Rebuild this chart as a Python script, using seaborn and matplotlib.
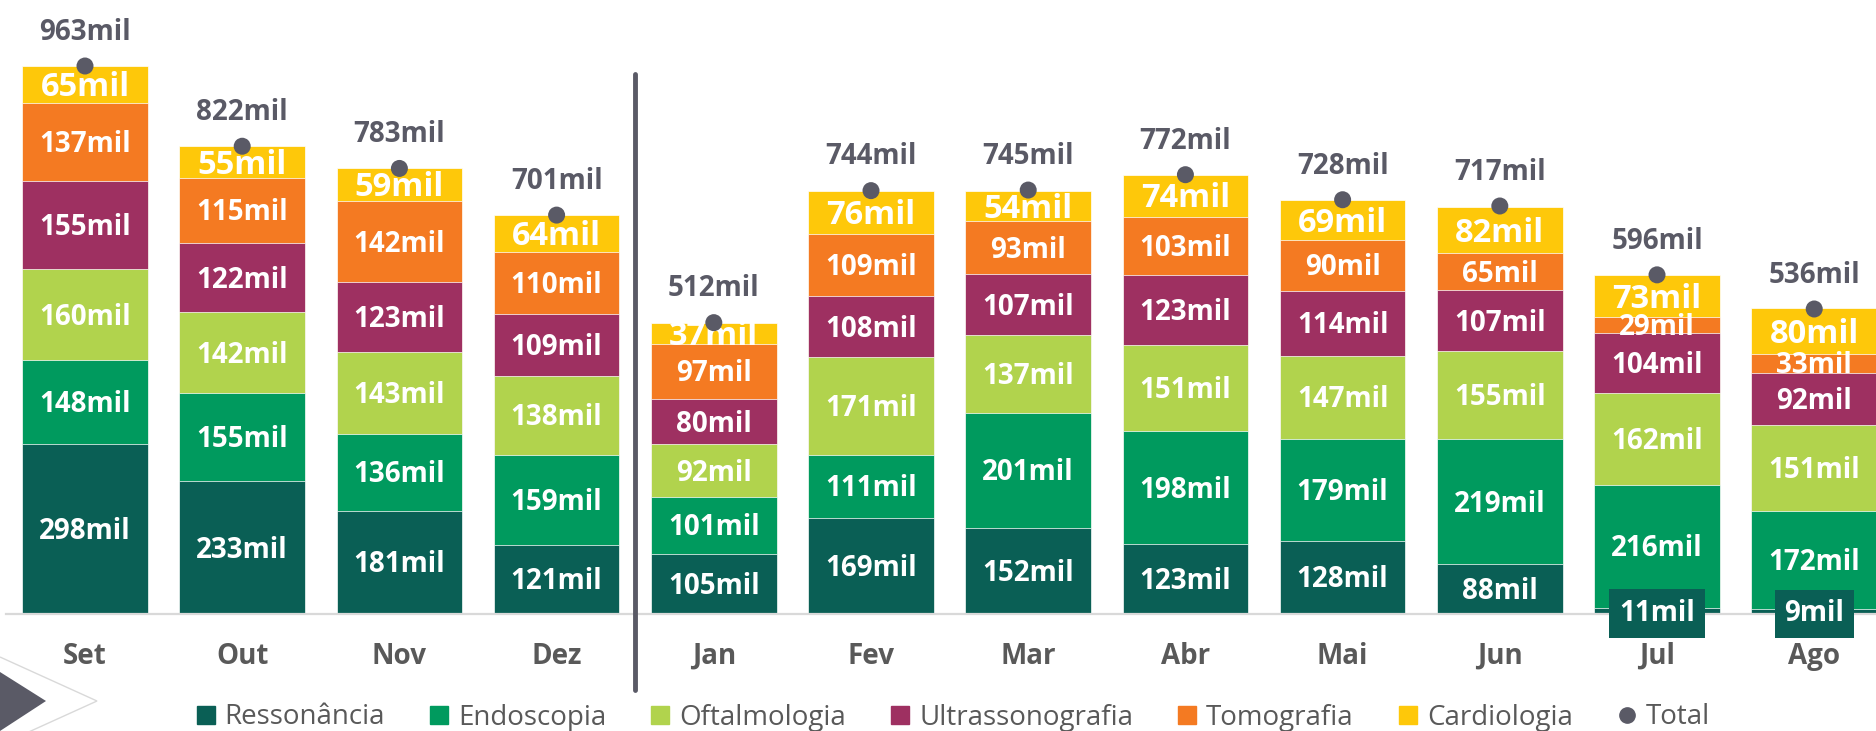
import numpy as np
import matplotlib
matplotlib.use("Agg")
import matplotlib.pyplot as plt
import matplotlib.transforms as mtransforms
from matplotlib.lines import Line2D
from matplotlib.patches import Polygon
import seaborn as sns

# ---- data ----
months = ['Set', 'Out', 'Nov', 'Dez', 'Jan', 'Fev', 'Mar', 'Abr', 'Mai', 'Jun', 'Jul', 'Ago']
ressonancia = [298, 233, 181, 121, 105, 169, 152, 123, 128, 88, 11, 9]
endoscopia = [148, 155, 136, 159, 101, 111, 201, 198, 179, 219, 216, 172]
oftalmologia = [160, 142, 143, 138, 92, 171, 137, 151, 147, 155, 162, 151]
ultrassonografia = [155, 122, 123, 109, 80, 108, 107, 123, 114, 107, 104, 92]
tomografia = [137, 115, 142, 110, 97, 109, 93, 103, 90, 65, 29, 33]
cardiologia = [65, 55, 59, 64, 37, 76, 54, 74, 69, 82, 73, 80]
total = [963, 822, 783, 701, 512, 744, 745, 772, 728, 717, 596, 536]

series_names = ['Ressonância', 'Endoscopia', 'Oftalmologia', 'Ultrassonografia', 'Tomografia', 'Cardiologia']
series_vals = [ressonancia, endoscopia, oftalmologia, ultrassonografia, tomografia, cardiologia]
colors = ['#0a5f55', '#009a5e', '#b1d34d', '#9e3061', '#f47a22', '#fec80a']
total_color = '#5a5a66'
text_gray = '#595959'

sns.set_theme(style='white')
plt.rcParams['font.family'] = ['Open Sans', 'DejaVu Sans']

W, H = 1876, 731
fig = plt.figure(figsize=(W / 100, H / 100), dpi=100)
ax = fig.add_axes([6 / W, 117 / H, 1870 / W, 614 / H])

x = np.arange(len(months))
vals = np.array(series_vals, dtype=float)
cum = np.cumsum(vals, axis=0)

# stacked bars: draw cumulative sums from the top layer down
for i in range(len(series_names) - 1, -1, -1):
    sns.barplot(x=x, y=cum[i], color=colors[i], saturation=1, width=0.8,
                edgecolor='white', linewidth=0.5, errorbar=None, ax=ax, zorder=2)

# segment labels
for i in range(len(series_names)):
    fs = 23.5 if series_names[i] == 'Cardiologia' else 20
    for j in range(len(months)):
        v = vals[i, j]
        ymid = cum[i, j] - v / 2
        kw = {}
        if v < 20:
            kw['bbox'] = dict(boxstyle='square,pad=0.35', facecolor=colors[i], edgecolor='none')
        ax.annotate(f'{int(v)}mil', (j, ymid), xytext=(0, -0.357 * fs), textcoords='offset points',
                    ha='center', va='baseline', fontsize=fs, fontweight='bold', color='white',
                    zorder=5, annotation_clip=False, **kw)

# totals
sns.scatterplot(x=x, y=total, color=total_color, s=150, edgecolor='none', ax=ax, zorder=6, legend=False)
for j, t in enumerate(total):
    ax.annotate(f'{t}mil', (j, t), xytext=(0, 26 - 0.357 * 20), textcoords='offset points',
                ha='center', va='baseline', fontsize=20, fontweight='bold', color=total_color,
                zorder=6, annotation_clip=False)

ax.set_xlim(-0.5025, 11.393)
ax.set_ylim(0, 1079)
ax.set_xticks(x)
ax.set_xticklabels(months, fontsize=20, fontweight='bold', color=text_gray)
ax.tick_params(axis='x', length=0, pad=20)
ax.set_yticks([])
ax.set_xlabel('')
ax.set_ylabel('')
for s in ['top', 'left', 'right']:
    ax.spines[s].set_visible(False)
ax.spines['bottom'].set_color('#d9d9d9')
ax.spines['bottom'].set_linewidth(1.6)

# separator between years
trans = mtransforms.blended_transform_factory(ax.transData, fig.transFigure)
ax.add_line(Line2D([3.5, 3.5], [1 - 74 / H, 1 - 690 / H], transform=trans, color=total_color,
                   linewidth=3.5, clip_on=False, zorder=3))

# decorative arrow bottom-left
def px(pts):
    return [(a / W, 1 - b / H) for a, b in pts]

fig.patches.append(Polygon(px([(0, 657), (97, 701), (0, 745)]), closed=False, fill=False,
                           edgecolor='#d9d9d9', linewidth=1.0, transform=fig.transFigure))
fig.patches.append(Polygon(px([(0, 672), (46, 701), (0, 731)]), closed=True, facecolor=total_color,
                           edgecolor='none', transform=fig.transFigure))

# legend
handles = [Line2D([], [], marker='s', linestyle='', markersize=13, color=c, label=n)
           for n, c in zip(series_names, colors)]
handles.append(Line2D([], [], marker='o', linestyle='', markersize=11, color=total_color, label='Total'))
fig.legend(handles=handles, loc='center', bbox_to_anchor=(953 / W, 1 - 717.5 / H), ncol=7,
           frameon=False, fontsize=20, labelcolor=text_gray, handlelength=0.7,
           handletextpad=0.33, columnspacing=1.6, borderpad=0, borderaxespad=0)

fig.savefig('out.png', dpi=100)
